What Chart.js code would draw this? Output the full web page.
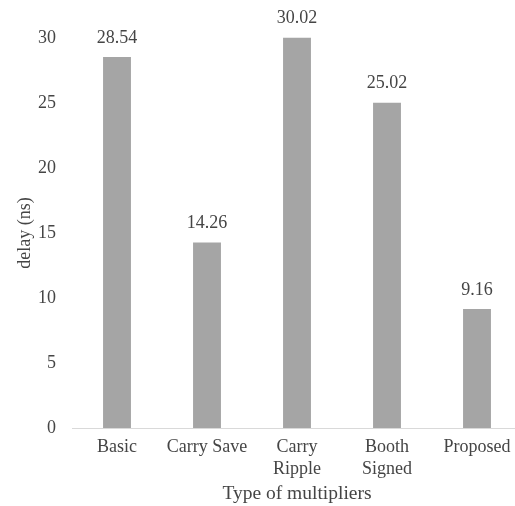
<!DOCTYPE html>
<html>
<head>
<meta charset="utf-8">
<script src="https://cdn.jsdelivr.net/npm/chart.js@4"></script>
<style>
html,body{margin:0;padding:0;background:#fff;overflow:hidden;width:515px;height:506px;}
#wrap{position:absolute;left:0;top:0;width:530px;height:506px;}
</style>
</head>
<body>
<div id="wrap"><canvas id="c" width="530" height="506"></canvas></div>
<script>
const categories = [["Basic"], ["Carry Save"], ["Carry", "Ripple"], ["Booth", "Signed"], ["Proposed"]];
const delays = [28.54, 14.26, 30.02, 25.02, 9.16];
const valueLabels = ["28.54", "14.26", "30.02", "25.02", "9.16"];
const yTicks = [0, 5, 10, 15, 20, 25, 30];

const FONT = "'Liberation Serif', 'Times New Roman', serif";
const TXT = "#454545";

const labelPlugin = {
  id: 'valLabels',
  afterDatasetsDraw(chart) {
    const ctx = chart.ctx;
    const meta = chart.getDatasetMeta(0);
    ctx.save();
    ctx.font = "18px " + FONT;
    ctx.fillStyle = TXT;
    ctx.textAlign = 'center';
    ctx.textBaseline = 'middle';
    meta.data.forEach((bar, i) => {
      ctx.fillText(valueLabels[i], bar.x, bar.y - 19);
    });
    ctx.restore();
  }
};

new Chart(document.getElementById('c'), {
  type: 'bar',
  data: {
    labels: categories,
    datasets: [{
      data: delays,
      backgroundColor: '#A5A5A5',
      borderWidth: 0,
      barPercentage: 0.31,
      categoryPercentage: 1.0,
      clip: false
    }]
  },
  options: {
    responsive: false,
    animation: false,
    devicePixelRatio: 1,
    layout: { padding: { top: 38, left: 14, right: 8, bottom: 0 } },
    plugins: { legend: { display: false }, tooltip: { enabled: false } },
    scales: {
      x: {
        afterFit(scale) { scale.height = 78; },
        grid: { display: false, drawTicks: false },
        border: { display: true, color: '#D9D9D9', width: 1 },
        ticks: { color: TXT, font: { family: FONT, size: 18, lineHeight: 1.25 }, padding: 8, maxRotation: 0, autoSkip: false },
        title: { display: true, text: 'Type of multipliers', color: TXT, font: { family: FONT, size: 19.5 }, padding: { top: 0, bottom: 0 } }
      },
      y: {
        min: 0, max: 30,
        afterFit(scale) { scale.width = 58; },
        afterBuildTicks(scale) { scale.ticks = yTicks.map(v => ({ value: v })); },
        grid: { display: false, drawTicks: false },
        border: { display: false },
        ticks: { color: TXT, font: { family: FONT, size: 18 }, padding: 16 },
        title: { display: true, text: 'delay (ns)', color: TXT, font: { family: FONT, size: 18 }, padding: { top: 0, bottom: 0 } }
      }
    }
  },
  plugins: [labelPlugin]
});
</script>
</body>
</html>
